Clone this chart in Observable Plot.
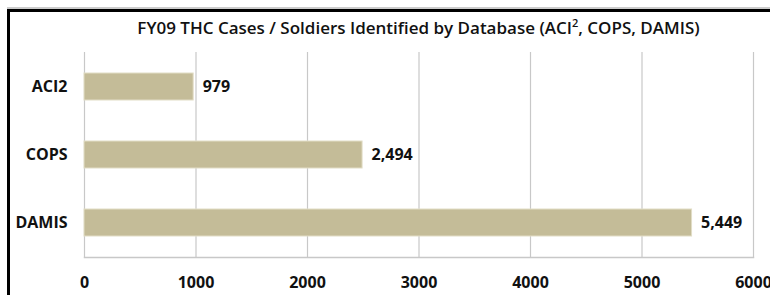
<!DOCTYPE html>
<html>
<head>
<meta charset="utf-8">
<script src="https://cdn.jsdelivr.net/npm/d3@7"></script>
<script src="https://cdn.jsdelivr.net/npm/@observablehq/plot@0.6"></script>
<style>
  html, body { margin: 0; padding: 0; background: #fff; }
  body { width: 770px; height: 295px; overflow: hidden; position: relative; font-family: "Open Sans", sans-serif; }
  #frame { position: absolute; left: 7px; top: 9px; width: 800px; height: 300px;
           border-left: 3px solid #000; border-top: 3px solid #000; box-shadow: 0 -2px 0 #ccc; }
  #title { position: absolute; left: 84px; width: 669px; top: 16px; text-align: center;
           font-size: 17px; font-weight: 600; color: #111; white-space: nowrap; }
  #title sup { font-size: 11px; line-height: 0; }
  #chart { position: absolute; left: 0; top: 44px; }
</style>
</head>
<body>
<div id="frame"></div>
<div id="title">FY09 THC Cases / Soldiers Identified by Database (ACI<sup>2</sup>, COPS, DAMIS)</div>
<div id="chart"></div>
<script>
const categories = ["ACI2", "COPS", "DAMIS"];
const values = [979, 2494, 5449];
const xTicks = [0, 1000, 2000, 3000, 4000, 5000, 6000];

const data = categories.map((c, i) => ({category: c, value: values[i]}));
const fmt = d3.format(",");

const chart = Plot.plot({
  width: 770,
  height: 251,
  marginLeft: 84,
  marginRight: 17,
  marginTop: 8,
  marginBottom: 38,
  style: {fontFamily: "Open Sans, sans-serif", fontSize: "16px", fontWeight: "700", color: "#111", background: "transparent"},
  x: {domain: [0, 6000], ticks: xTicks, label: null},
  y: {domain: categories, paddingInner: 0.6, paddingOuter: 0.3, label: null},
  marks: [
    Plot.ruleX(xTicks, {stroke: "#c8c8c8", strokeWidth: 1.2}),
    Plot.frame({anchor: "bottom", stroke: "#c8c8c8", strokeWidth: 1.5}),
    Plot.barX(data, {x: "value", y: "category", fill: "#c4bc98", stroke: "#e2ddc6", strokeWidth: 1}),
    Plot.text(data, {x: "value", y: "category", text: d => fmt(d.value), textAnchor: "start", dx: 9,
                     fill: "#111", fontSize: 16, fontWeight: 700}),
    Plot.axisX({ticks: xTicks, tickSize: 0, tickPadding: 19, tickFormat: d => String(d), fontWeight: 700}),
    Plot.axisY({tickSize: 0, tickPadding: 17, fontWeight: 700})
  ]
});
document.getElementById("chart").appendChild(chart);
</script>
</body>
</html>
